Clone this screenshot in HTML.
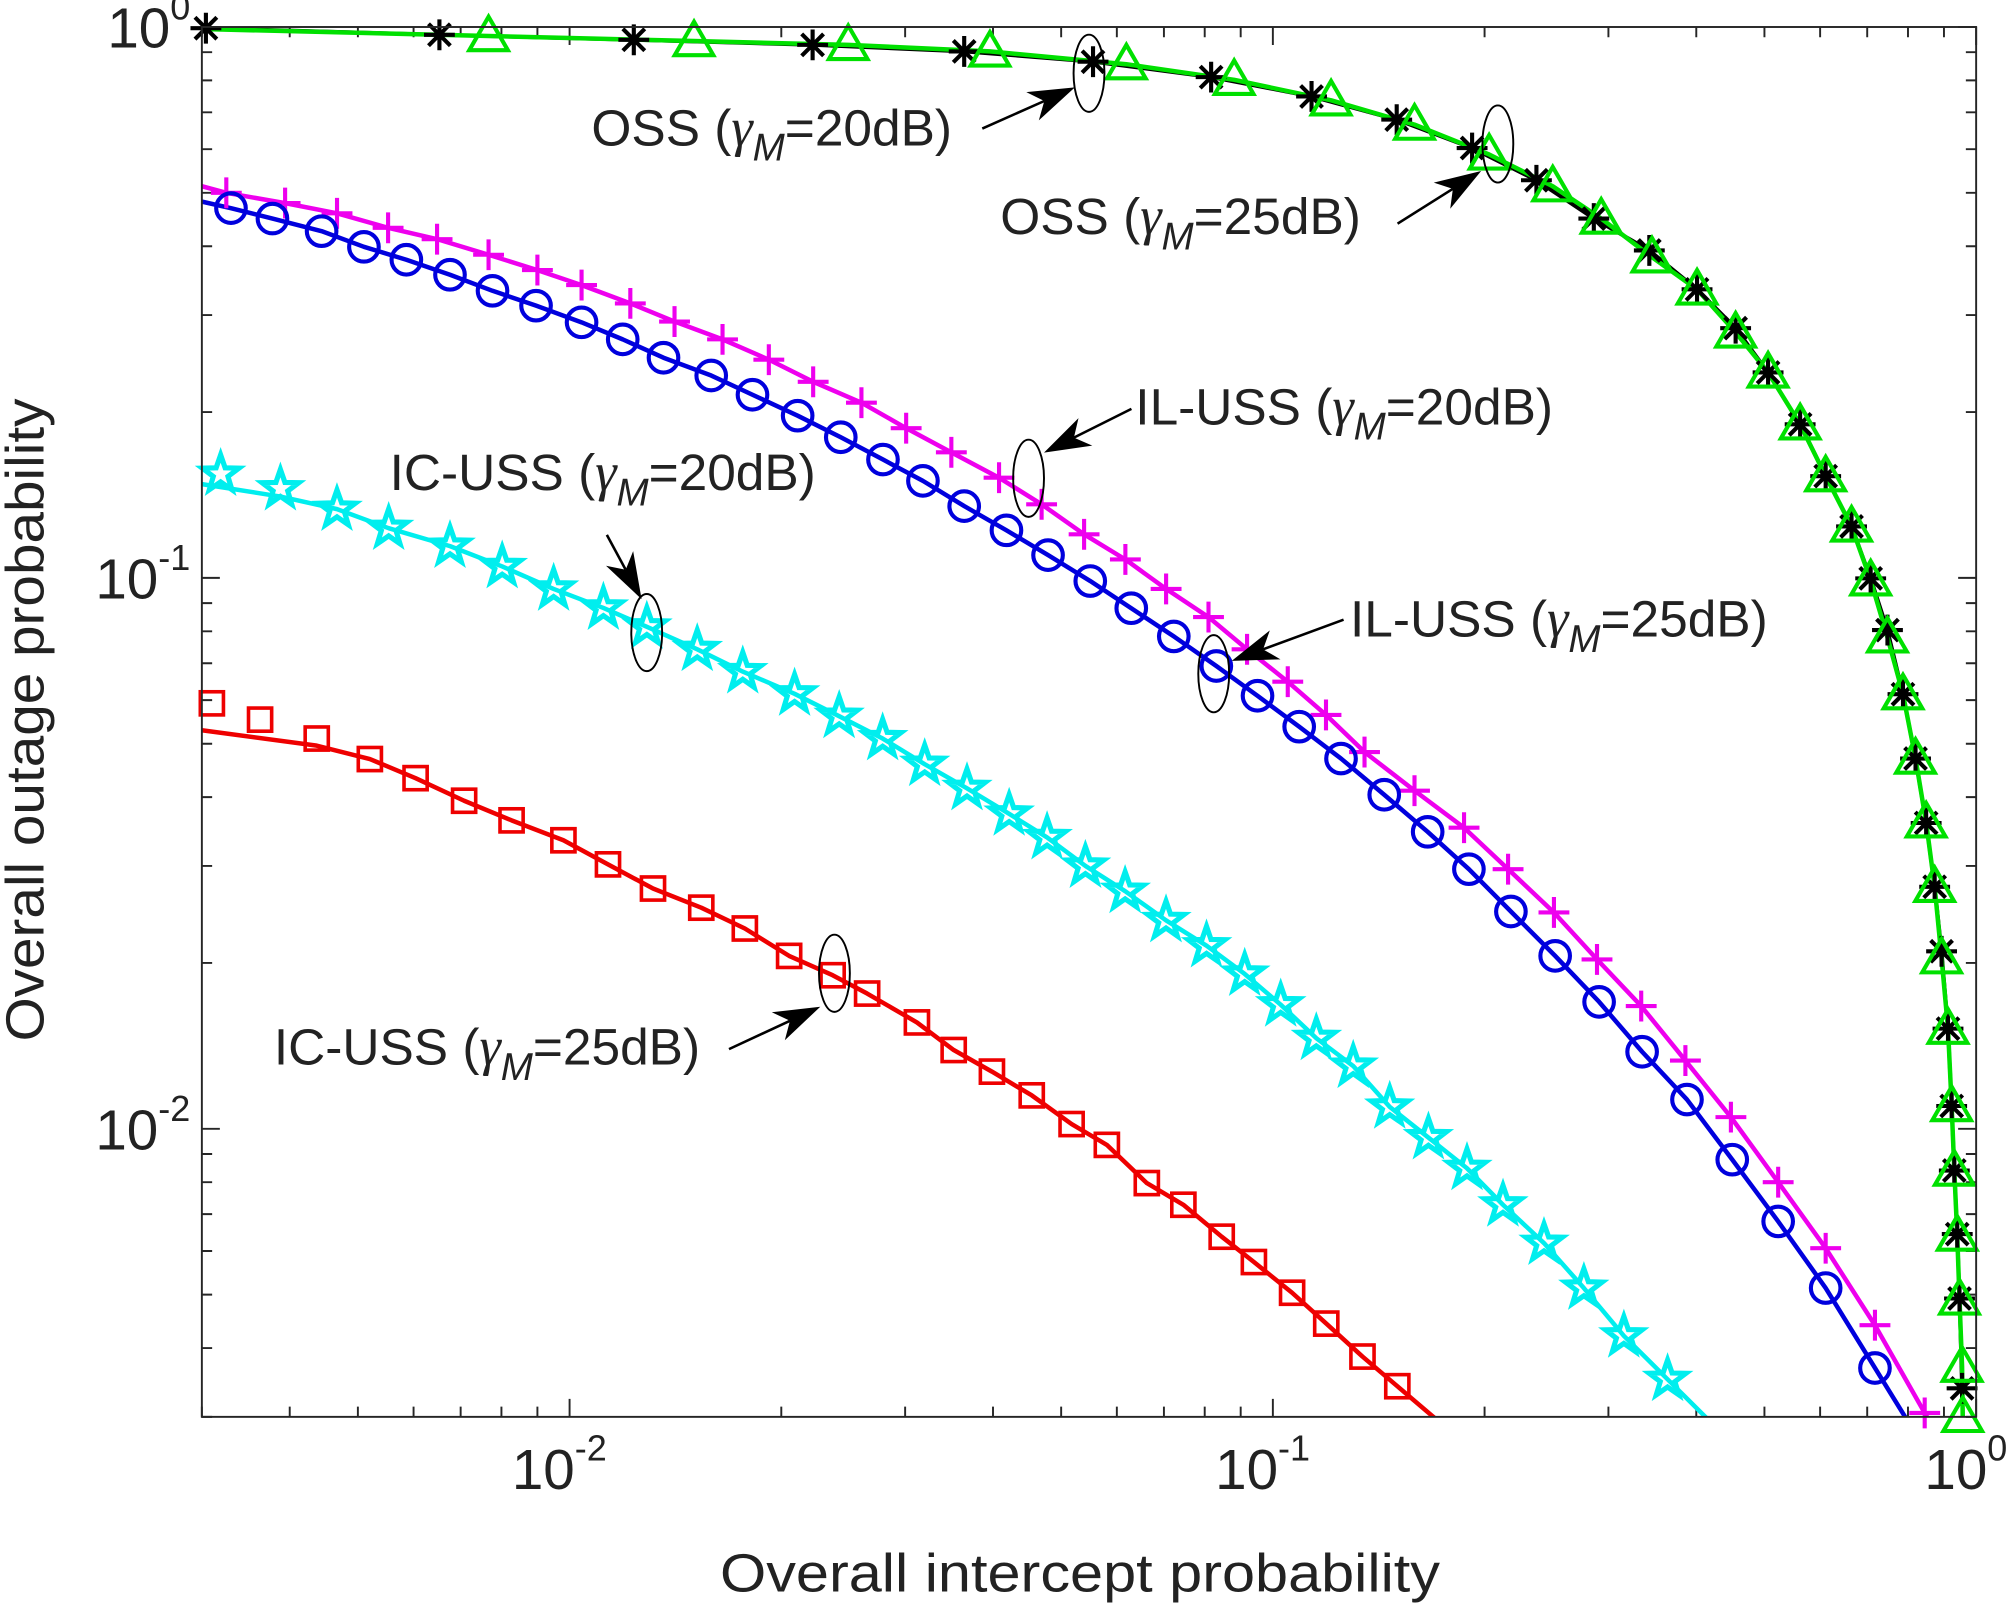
<!DOCTYPE html>
<html><head><meta charset="utf-8"><style>
html,body{margin:0;padding:0;background:#fff;overflow:hidden;width:2016px;height:1611px;}
svg{display:block;}
text{font-family:"Liberation Sans",sans-serif;fill:#222;}
</style></head><body>
<svg id="chart" width="2016" height="1611" viewBox="0 0 1568 1253" xmlns="http://www.w3.org/2000/svg">
<defs><clipPath id="plotclip"><rect x="157" y="21" width="1380" height="1081"/></clipPath></defs>
<rect x="0" y="0" width="1568" height="1253" fill="#fff"/>
<g id="grid-ticks"></g>
<g id="lines" clip-path="url(#plotclip)"></g>
<g id="markers"></g>
<rect x="157" y="21" width="1380" height="1081" fill="none" stroke="#262626" stroke-width="1.5"/>
<g id="labels"></g>
<text x="840" y="1238" font-size="42" text-anchor="middle" textLength="560" lengthAdjust="spacingAndGlyphs">Overall intercept probability</text>
<text transform="translate(34,560) rotate(-90)" font-size="42" text-anchor="middle" textLength="500" lengthAdjust="spacingAndGlyphs">Overall outage probability</text>
<g id="annots"></g>
</svg>
<script>
// ---- data ----
const blackX=[0.00304,0.00653,0.01234,0.02216,0.0364,0.0555,0.0817,0.1135,0.150,0.192,0.237,0.286,0.343,0.401,0.455,0.506,0.562,0.611,0.665,0.708,0.748,0.787,0.820,0.849,0.873,0.893,0.912,0.923,0.931,0.940,0.947,0.955];
const blackY=[0.995,0.968,0.948,0.928,0.903,0.865,0.811,0.748,0.679,0.603,0.527,0.449,0.393,0.334,0.284,0.236,0.190,0.153,0.124,0.0998,0.0804,0.0615,0.047,0.0359,0.0275,0.0210,0.0152,0.0110,0.0084,0.00644,0.00492,0.00338];
const greenX=[0.00767,0.01503,0.0249,0.0396,0.0619,0.0881,0.121,0.159,0.203,0.250,0.293,0.346,0.401,0.455,0.506,0.562,0.611,0.665,0.708,0.748,0.787,0.820,0.849,0.873,0.893,0.912,0.923,0.931,0.940,0.947,0.955,0.957];
const greenY=[0.963,0.943,0.928,0.903,0.856,0.802,0.736,0.665,0.587,0.514,0.449,0.382,0.334,0.279,0.236,0.190,0.153,0.124,0.099,0.078,0.0615,0.047,0.036,0.0275,0.0204,0.0152,0.011,0.0084,0.0064,0.0049,0.0037,0.003];
const magentaX=[0.00325,0.00394,0.00467,0.00552,0.00648,0.00767,0.00900,0.0104,0.0122,0.0141,0.0165,0.0192,0.0222,0.0260,0.0301,0.0349,0.0408,0.0469,0.0539,0.0617,0.0705,0.0810,0.0919,0.105,0.119,0.135,0.159,0.187,0.216,0.251,0.289,0.334,0.386,0.448,0.523,0.611,0.718,0.845];
const magentaY=[0.500,0.479,0.459,0.432,0.412,0.386,0.362,0.340,0.315,0.292,0.271,0.249,0.227,0.208,0.187,0.169,0.152,0.136,0.120,0.108,0.0955,0.0849,0.0742,0.0648,0.0564,0.0483,0.0411,0.0352,0.0296,0.0247,0.0203,0.0167,0.0133,0.0105,0.0080,0.00607,0.00440,0.00305];
const blueX=[0.0033,0.00378,0.00444,0.0051,0.00586,0.00676,0.00777,0.00896,0.0104,0.0119,0.0136,0.0159,0.0182,0.0211,0.0243,0.0279,0.0318,0.0364,0.0418,0.0479,0.055,0.0629,0.0723,0.0831,0.0951,0.109,0.125,0.144,0.166,0.190,0.218,0.252,0.291,0.335,0.388,0.450,0.523,0.611,0.718];
const blueY=[0.469,0.449,0.426,0.399,0.378,0.355,0.332,0.312,0.291,0.271,0.251,0.233,0.215,0.197,0.180,0.164,0.150,0.135,0.122,0.110,0.0987,0.0881,0.0783,0.0692,0.0611,0.0537,0.0470,0.0404,0.0346,0.0296,0.0248,0.0206,0.0170,0.0138,0.0113,0.00879,0.00679,0.00514,0.00368];
const cyanX=[0.00319,0.00388,0.00467,0.00553,0.00676,0.00802,0.00949,0.01117,0.01288,0.01519,0.01763,0.02089,0.02417,0.02787,0.03198,0.03673,0.04217,0.04775,0.05414,0.06166,0.07047,0.08048,0.0912,0.1026,0.1153,0.1301,0.1466,0.1664,0.1888,0.2124,0.243,0.2768,0.3155,0.3641];
const cyanY=[0.1543,0.1452,0.1333,0.1231,0.1142,0.1049,0.0955,0.0882,0.0815,0.0742,0.0676,0.0616,0.0561,0.0511,0.0459,0.0415,0.0373,0.0338,0.0300,0.0270,0.0239,0.0215,0.0191,0.0168,0.0146,0.0130,0.01096,0.00964,0.00848,0.00728,0.0062,0.00514,0.00421,0.00351];
const redX=[0.00310,0.00363,0.00437,0.00520,0.00604,0.00708,0.00827,0.00980,0.01134,0.01314,0.01539,0.01775,0.02052,0.02366,0.02649,0.03118,0.03517,0.03986,0.04541,0.05174,0.05807,0.06619,0.07460,0.08458,0.09398,0.1065,0.1191,0.1341,0.1503];
const redY=[0.0592,0.0553,0.0511,0.0469,0.0433,0.0394,0.0363,0.0334,0.0302,0.0273,0.0252,0.0231,0.0206,0.0190,0.0176,0.0156,0.0139,0.0127,0.0115,0.0102,0.00935,0.00797,0.00728,0.00637,0.00573,0.00504,0.00443,0.00386,0.00341];
const cyanLineStartX=[0.003,0.00388];
const cyanLineStartY=[0.148,0.1405];
const redLineStartX=[0.003,0.00437];
const redLineStartY=[0.0529,0.0496];
const blueLineStartX=[0.003];
const blueLineStartY=[0.482];
const magentaLineStartX=[0.003];
const magentaLineStartY=[0.514];
const xTickExps=[-2,-1,0];
const yTickExps=[0,-1,-2];

// ---- axes ----
const X0=157,X1=1537,Y0=21,Y1=1102,XMIN=Math.log10(0.003),XMAX=0,YMIN=Math.log10(0.003),YMAX=0;
function sx(v){return X0+(Math.log10(v)-XMIN)/(XMAX-XMIN)*(X1-X0);}
function sy(v){return Y1-(Math.log10(v)-YMIN)/(YMAX-YMIN)*(Y1-Y0);}
const NS="http://www.w3.org/2000/svg";
function mk(tag,attrs,parent){const e=document.createElementNS(NS,tag);for(const k in attrs)e.setAttribute(k,attrs[k]);parent.appendChild(e);return e;}

const tg=document.getElementById('grid-ticks');
const lg=document.getElementById('labels');
for(let k=-3;k<=0;k++){for(let m=1;m<10;m++){const v=m*Math.pow(10,k);if(v<0.003-1e-9||v>1+1e-9)continue;
 const L=m===1?14:8;const x=sx(v),y=sy(v);
 let t=mk('path',{d:`M${x},${Y1}V${Y1-L}M${x},${Y0}V${Y0+L}`,stroke:'#262626','stroke-width':1.5},tg);
 
 
 t=mk('path',{d:`M${X0},${y}H${X0+L}M${X1},${y}H${X1-L}`,stroke:'#262626','stroke-width':1.5},tg);
 
 
}}
xTickExps.forEach(e=>{const x=sx(Math.pow(10,e));const t=mk('text',{x:x-8,y:1158,'font-size':44,'text-anchor':'middle'},lg);
 
 
 t.innerHTML=`10<tspan font-size="28" dy="-22">${e}</tspan>`;});
yTickExps.forEach(e=>{const y=sy(Math.pow(10,e));const t=mk('text',{x:148,y:y+16,'font-size':44,'text-anchor':'end'},lg);
 
 
 t.innerHTML=`10<tspan font-size="28" dy="-22">${e}</tspan>`;});

// ---- lines ----
const linesG=document.getElementById('lines');
function drawLine(xs,ys,color,name,w){
 const p=xs.map((v,i)=>[sx(v),sy(ys[i])]);
 const n=p.length;
 const a=p[n-2],b=p[n-1];const ext=[b[0]+(b[0]-a[0])*4,b[1]+(b[1]-a[1])*4];
 const c=p[0],d=p[1];const pre=[c[0]-(d[0]-c[0])*4,c[1]-(d[1]-c[1])*4];
 const pts=[pre,...p,ext];
 const el=mk('polyline',{points:pts.map(q=>q.join(',')).join(' '),fill:'none',stroke:color,'stroke-width':w||3.5,'stroke-linejoin':'round'},linesG);
 
 
}
drawLine(blackX,blackY,'#000','oss-20db-line',3);
drawLine(greenX,greenY,'#00e000','oss-25db-line',3.5);
drawLine(magentaLineStartX.concat(magentaX),magentaLineStartY.concat(magentaY),'#ee00ee','il-uss-20db-line',3.5);
drawLine(blueLineStartX.concat(blueX),blueLineStartY.concat(blueY),'#0000dd','il-uss-25db-line',3.5);
drawLine(cyanLineStartX.concat(cyanX.slice(2)),cyanLineStartY.concat(cyanY.slice(2)),'#00eeee','ic-uss-20db-line',3.5);
drawLine(redLineStartX.concat(redX.slice(3)),redLineStartY.concat(redY.slice(3)),'#ee0000','ic-uss-25db-line',3.5);

// ---- markers ----
const mg=document.getElementById('markers');
function marker(type,x,y,color,name){
 let el;
 if(type==='circle')el=mk('circle',{cx:x,cy:y,r:11.5,fill:'none',stroke:color,'stroke-width':3.2},mg);
 else if(type==='square')el=mk('rect',{x:x-9,y:y-9,width:18,height:18,fill:'none',stroke:color,'stroke-width':2.8},mg);
 else if(type==='plus')el=mk('path',{d:`M${x-12},${y}H${x+12}M${x},${y-12}V${y+12}`,stroke:color,'stroke-width':3.2},mg);
 else if(type==='star'){let d='';for(let i=0;i<10;i++){const r=i%2?6:15;const a=-Math.PI/2+i*Math.PI/5;d+=(i?'L':'M')+(x+r*Math.cos(a)).toFixed(1)+','+(y+r*Math.sin(a)).toFixed(1);}
  el=mk('path',{d:d+'Z',fill:'none',stroke:color,'stroke-width':4,'stroke-linejoin':'miter'},mg);}
 else if(type==='tri')el=mk('path',{d:`M${x},${y-15}L${x+15},${y+11}L${x-15},${y+11}Z`,fill:'none',stroke:color,'stroke-width':3.2},mg);
 else if(type==='ast'){const r=12,q=8.5;el=mk('path',{d:`M${x-r},${y}H${x+r}M${x},${y-r}V${y+r}M${x-q},${y-q}L${x+q},${y+q}M${x-q},${y+q}L${x+q},${y-q}`,stroke:color,'stroke-width':3.2},mg);}
 
 
}
blackX.forEach((v,i)=>marker('ast',sx(v),sy(blackY[i]),'#000','oss-20db-marker'));
greenX.forEach((v,i)=>marker('tri',sx(v),sy(greenY[i]),'#00e000','oss-25db-marker'));
magentaX.forEach((v,i)=>marker('plus',sx(v),sy(magentaY[i]),'#ee00ee','il-uss-20db-marker'));
blueX.forEach((v,i)=>marker('circle',sx(v),sy(blueY[i]),'#0000dd','il-uss-25db-marker'));
cyanX.forEach((v,i)=>marker('star',sx(v),sy(cyanY[i]),'#00eeee','ic-uss-20db-marker'));
redX.forEach((v,i)=>marker('square',sx(v),sy(redY[i]),'#ee0000','ic-uss-25db-marker'));

// ---- annotations ----
const ag=document.getElementById('annots');
function annot(name,label,db,tx,ty,tw,ax0,ay0,ax1,ay1,ex,ey){
 const g=mk('g',{},ag);
 
 
 const t=mk('text',{x:tx,y:ty,'font-size':40},g);
 t.innerHTML=`${label} (<tspan font-family="Liberation Serif,serif" font-style="italic" font-size="42">γ</tspan><tspan font-style="italic" font-size="30" dy="12">M</tspan><tspan dy="-12">=${db}dB)</tspan>`;
 mk('ellipse',{cx:ex,cy:ey,rx:12,ry:30,fill:'none',stroke:'#000','stroke-width':1.5},g);
 const dx=ax1-ax0,dy=ay1-ay0,L=Math.hypot(dx,dy),ux=dx/L,uy=dy/L,hl=36,hw=12;
 const bx=ax1-ux*hl,by=ay1-uy*hl;
 mk('line',{x1:ax0,y1:ay0,x2:bx+ux*10,y2:by+uy*10,stroke:'#000','stroke-width':2},g);
 mk('path',{d:`M${ax1},${ay1}L${bx-uy*hw},${by+ux*hw}L${bx+ux*10},${by+uy*10}L${bx+uy*hw},${by-ux*hw}Z`,fill:'#000'},g);
}
annot('oss-20db-annotation','OSS',20,460,113,0,764,100,836,68,847,57);
annot('oss-25db-annotation','OSS',25,778,182,0,1087,174,1152,133,1165,112);
annot('il-uss-20db-annotation','IL-USS',20,883,330,0,880,318,812,352,800,372);
annot('ic-uss-20db-annotation','IC-USS',20,303,381,0,472,416,499,466,503,492);
annot('il-uss-25db-annotation','IL-USS',25,1050,495,0,1045,482,958,514,944,524);
annot('ic-uss-25db-annotation','IC-USS',25,213,828,0,567,816,638,783,649,757);
</script>
</body></html>
